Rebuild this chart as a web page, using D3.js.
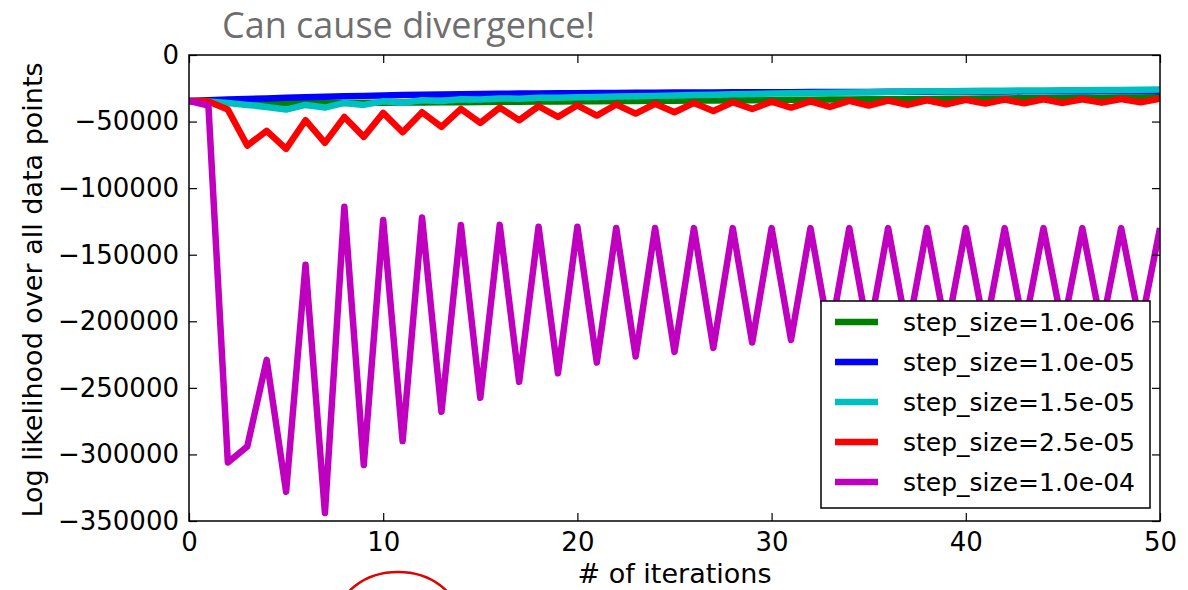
<!DOCTYPE html>
<html>
<head>
<meta charset="utf-8">
<script src="https://cdn.jsdelivr.net/npm/d3@7"></script>
<style>
  body { margin: 0; background: #fff; }
  svg { display: block; }
  text { font-family: "DejaVu Sans", sans-serif; fill: #000; }
</style>
</head>
<body>
<div id="chart"></div>
<script>
// iterations 0..50
const iterations = d3.range(0, 51);

const stepSizes = ['1.0e-06', '1.0e-05', '1.5e-05', '2.5e-05', '1.0e-04'];
const seriesColors = ['#008000', '#0000ff', '#00bfbf', '#ff0000', '#bf00bf'];

const ll_1e06 = [-34500, -34800, -35200, -35500, -35800, -36000, -36100, -36100, -36000, -35900,
  -35800, -35700, -35600, -35500, -35400, -35300, -35200, -35100, -35000, -34900,
  -34800, -34700, -34600, -34500, -34400, -34300, -34200, -34100, -34000, -33900,
  -33800, -33700, -33600, -33500, -33400, -33300, -33200, -33100, -33000, -32900,
  -32800, -32700, -32600, -32500, -32400, -32300, -32200, -32100, -32000, -31900, -31800];

const ll_1e05 = [-34500, -34000, -33500, -33000, -32600, -32200, -31800, -31400, -31000, -30700,
  -30400, -30100, -29900, -29700, -29500, -29300, -29100, -29000, -28900, -28800,
  -28700, -28600, -28500, -28400, -28300, -28200, -28150, -28100, -28050, -28000,
  -27950, -27900, -27850, -27800, -27750, -27700, -27650, -27600, -27550, -27500,
  -27450, -27400, -27350, -27300, -27250, -27200, -27150, -27100, -27050, -27000, -26950];

const ll_15e05 = [-34500, -35000, -36000, -37500, -39000, -41000, -37500, -39500, -36000, -37500,
  -34800, -35800, -34000, -34500, -33300, -33500, -32700, -32800, -32200, -32100,
  -31700, -31500, -31200, -31000, -30700, -30400, -30100, -29800, -29500, -29200,
  -28900, -28700, -28500, -28300, -28100, -27900, -27700, -27500, -27300, -27200,
  -27000, -26900, -26800, -26700, -26600, -26500, -26400, -26300, -26200, -26100, -26000];

const ll_25e05 = [-34500, -35000, -41000, -68000, -57000, -70500, -49000, -66000, -46500, -61500,
  -43500, -58000, -43000, -54000, -40500, -51000, -39500, -49000, -38500, -46500,
  -37800, -45500, -37200, -44000, -36600, -43000, -36000, -42000, -35500, -40500,
  -35000, -39500, -34800, -39000, -34500, -38000, -34200, -37500, -34000, -37000,
  -33700, -36500, -33500, -36200, -33300, -36000, -33200, -35800, -33000, -35500, -32900];

const ll_1e04 = [-34500, -38000, -306000, -294000, -229000, -328000, -157600, -344000, -114000, -308000,
  -124000, -290000, -122000, -268000, -127600, -257500, -127600, -245500, -129000, -239000,
  -129000, -231000, -130000, -226500, -130000, -223000, -130000, -220000, -130000, -216000,
  -130000, -214000, -130000, -212000, -130000, -210500, -130000, -209000, -130000, -208000,
  -130000, -207000, -130000, -206000, -130000, -205000, -130000, -204500, -130000, -204000, -130000];

const seriesValues = [ll_1e06, ll_1e05, ll_15e05, ll_25e05, ll_1e04];

const xTicks = [0, 10, 20, 30, 40, 50];
const yTicks = [0, -50000, -100000, -150000, -200000, -250000, -300000, -350000];

const width = 1188, height = 590;
const plotLeft = 189, plotRight = 1160, plotTop = 55, plotBottom = 521;

const svg = d3.select('#chart').append('svg').attr('width', width).attr('height', height);

const x = d3.scaleLinear().domain([0, 50]).range([plotLeft, plotRight]);
const y = d3.scaleLinear().domain([-350000, 0]).range([plotBottom, plotTop]);

svg.append('clipPath').attr('id', 'plot-clip')
  .append('rect').attr('x', plotLeft).attr('y', plotTop)
  .attr('width', plotRight - plotLeft).attr('height', plotBottom - plotTop);

// series lines, drawn in the order matplotlib plotted them
const line = d3.line().x((d, i) => x(iterations[i])).y(d => y(d));
svg.append('g').attr('clip-path', 'url(#plot-clip)')
  .selectAll('path').data(seriesValues).enter().append('path')
  .attr('d', line).attr('fill', 'none')
  .attr('stroke', (d, i) => seriesColors[i]).attr('stroke-width', 6.5)
  .attr('stroke-linejoin', 'round').attr('stroke-linecap', 'butt');

// axes: ticks point inward on all four sides
const fmt = d => d === 0 ? '0' : '\u2212' + Math.abs(d);
const styleAxis = g => {
  g.select('.domain').remove();
  g.selectAll('line').attr('stroke', '#000').attr('stroke-width', 1.2);
  g.selectAll('text').style('font-size', '26px').style('font-family', '"DejaVu Sans", sans-serif');
};

svg.append('g').attr('transform', `translate(0,${plotBottom})`)
  .call(d3.axisBottom(x).tickValues(xTicks).tickSizeInner(-8).tickSizeOuter(0).tickPadding(12))
  .call(styleAxis);
svg.append('g').attr('transform', `translate(0,${plotTop})`)
  .call(d3.axisTop(x).tickValues(xTicks).tickSizeInner(-8).tickSizeOuter(0).tickFormat(''))
  .call(styleAxis);
svg.append('g').attr('transform', `translate(${plotLeft},0)`)
  .call(d3.axisLeft(y).tickValues(yTicks).tickSizeInner(-8).tickSizeOuter(0).tickPadding(10).tickFormat(fmt))
  .call(styleAxis);
svg.append('g').attr('transform', `translate(${plotRight},0)`)
  .call(d3.axisRight(y).tickValues(yTicks).tickSizeInner(-8).tickSizeOuter(0).tickFormat(''))
  .call(styleAxis);

// frame
svg.append('rect').attr('x', plotLeft).attr('y', plotTop)
  .attr('width', plotRight - plotLeft).attr('height', plotBottom - plotTop)
  .attr('fill', 'none').attr('stroke', '#000').attr('stroke-width', 1.5);

// axis labels
svg.append('text').attr('x', (plotLeft + plotRight) / 2).attr('y', 583)
  .attr('text-anchor', 'middle').style('font-size', '27px').text('# of iterations');
svg.append('text').attr('transform', `translate(42,${(plotTop + plotBottom) / 2 + 2}) rotate(-90)`)
  .attr('text-anchor', 'middle').style('font-size', '27px').text('Log likelihood over all data points');

// title
svg.append('text').attr('x', 222).attr('y', 38)
  .style('font-family', '"Open Sans", sans-serif').style('font-size', '36px').style('fill', '#6e6e6e')
  .text('Can cause divergence!');

// legend
const legend = svg.append('g').attr('transform', 'translate(821,301)');
legend.append('rect').attr('width', 329).attr('height', 207)
  .attr('fill', '#fff').attr('stroke', '#000').attr('stroke-width', 1.5);
const rows = legend.selectAll('g.row').data(stepSizes).enter().append('g')
  .attr('class', 'row').attr('transform', (d, i) => `translate(0,${21 + i * 40})`);
rows.append('line').attr('x1', 14).attr('x2', 57).attr('y1', 0).attr('y2', 0)
  .attr('stroke', (d, i) => seriesColors[i]).attr('stroke-width', 6.5);
rows.append('text').attr('x', 82).attr('y', 0).attr('dy', '0.35em')
  .style('font-size', '25px').text(d => `step_size=${d}`);

// hand-drawn red circle peeking in at the bottom
svg.append('ellipse').attr('cx', 398).attr('cy', 618).attr('rx', 60).attr('ry', 46)
  .attr('fill', 'none').attr('stroke', '#e00000').attr('stroke-width', 2.5);
</script>
</body>
</html>
